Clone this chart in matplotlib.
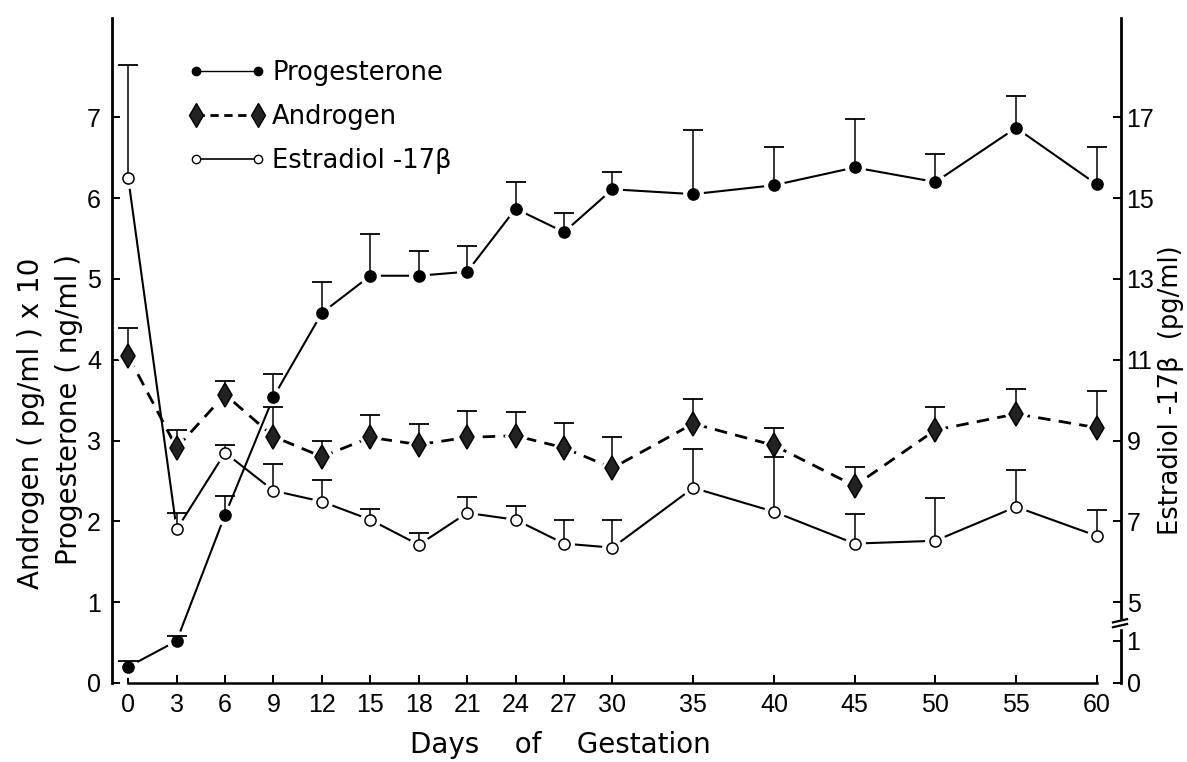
import numpy as np
import matplotlib
matplotlib.use("Agg")
import matplotlib.pyplot as plt
from matplotlib.lines import Line2D
from matplotlib.patches import Rectangle

plt.rcParams['font.family'] = ['DejaVu Sans']

# data
days = [0, 3, 6, 9, 12, 15, 18, 21, 24, 27, 30, 35, 40, 45, 50, 55, 60]

# progesterone (ng/ml), mean and top of error bar
prog = [0.20, 0.52, 2.08, 3.54, 4.58, 5.04, 5.04, 5.09, 5.87, 5.58, 6.11, 6.05, 6.16, 6.38, 6.20, 6.87, 6.17]
prog_top = [0.27, 0.58, 2.32, 3.83, 4.96, 5.56, 5.35, 5.41, 6.20, 5.82, 6.33, 6.84, 6.63, 6.98, 6.55, 7.27, 6.63]

# androgen (pg/ml x 10)
andro = [4.05, 2.91, 3.57, 3.05, 2.80, 3.04, 2.95, 3.04, 3.06, 2.91, 2.66, 3.21, 2.94, 2.44, 3.13, 3.33, 3.16]
andro_top = [4.39, 3.13, 3.74, 3.41, 3.00, 3.32, 3.21, 3.37, 3.35, 3.22, 3.04, 3.51, 3.15, 2.67, 3.41, 3.64, 3.61]

# estradiol-17b (pg/ml), right axis
estr = [15.5, 6.8, 8.7, 7.76, 7.49, 7.04, 6.42, 7.21, 7.04, 6.45, 6.35, 7.83, 7.24, 6.45, 6.52, 7.36, 6.64]
estr_top = [18.3, 7.2, 8.9, 8.43, 8.03, 7.31, 6.72, 7.61, 7.39, 7.04, 7.04, 8.8, 8.6, 7.19, 7.58, 8.28, 7.29]

left_ticks = [0, 1, 2, 3, 4, 5, 6, 7]
right_ticks = [0, 1, 5, 7, 9, 11, 13, 15, 17]

# broken right axis: 0-1 squeezed at the bottom, 5 and up linear
e_pts = [-10, 0, 1, 5, 25]
l_pts = [-5.2, 0, 0.52, 1, 11]


def e_to_l(v):
    return np.interp(v, e_pts, l_pts)


def l_to_e(v):
    return np.interp(v, l_pts, e_pts)


def draw_series(axis, y, top, marker, ms, face, ls, lw, dashes=None):
    kw = {}
    if dashes is not None:
        kw['dashes'] = dashes
    axis.plot(days, y, color='black', ls=ls, lw=lw, zorder=2, **kw)
    # white halo so the line stops short of each marker
    axis.plot(days, y, ls='none', marker=marker, ms=ms + 6, mfc='white', mec='white', zorder=3)
    axis.vlines(days, y, top, color='black', lw=1.1, zorder=4)
    axis.plot(days, top, ls='none', marker='_', ms=15, mew=1.3, color='black', zorder=4)
    axis.plot(days, y, ls='none', marker=marker, ms=ms, mfc=face, mec='black', mew=1.1, zorder=5)


fig = plt.figure(figsize=(11.87, 7.62), dpi=100)
ax = fig.add_axes([0.0944, 0.1037, 0.85, 0.8727])
ax2 = ax.twinx()

ax.set_xlim(-1, 61.5)
ax.set_ylim(0, 8.23)
ax2.set_yscale('function', functions=(e_to_l, l_to_e))
ax2.set_ylim(l_to_e(0), l_to_e(8.23))

draw_series(ax, prog, prog_top, 'o', 8, 'black', '-', 1.5)
draw_series(ax, andro, andro_top, 'd', 12, '#222222', '--', 2.0, dashes=(4.5, 3))
draw_series(ax2, estr, estr_top, 'o', 8, 'white', '-', 1.5)

# spines
for s in ['top', 'right']:
    ax.spines[s].set_visible(False)
for s in ['top', 'left', 'bottom']:
    ax2.spines[s].set_visible(False)
ax.spines['left'].set_linewidth(2.0)
ax.spines['bottom'].set_linewidth(1.8)
ax.spines['bottom'].set_bounds(0, 60)
ax2.spines['right'].set_linewidth(2.0)

ax.set_xticks(days)
ax.set_yticks(left_ticks)
ax2.set_yticks(right_ticks)
ax2.set_yticklabels([str(t) for t in right_ticks])
ax2.minorticks_off()

tick_font = ['Liberation Sans Narrow', 'Liberation Sans']
ax.tick_params(axis='x', direction='in', length=6, width=1.4, labelsize=18, pad=7,
               labelfontfamily=tick_font)
ax.tick_params(axis='y', direction='in', length=6, width=1.4, labelsize=18, pad=8,
               labelfontfamily=tick_font)
ax2.tick_params(axis='y', direction='in', length=6, width=1.4, labelsize=18, pad=4,
                labelfontfamily=tick_font)

# break marks on the right axis
tr = ax.get_yaxis_transform()
ax2.add_patch(Rectangle((0.995, 0.68), 0.01, 0.1, transform=tr, color='white',
                        clip_on=False, zorder=10))
ax2.plot([0.992, 1.006], [0.69, 0.73], transform=tr, color='black', lw=1.6,
         clip_on=False, zorder=11)
ax2.plot([0.992, 1.006], [0.75, 0.79], transform=tr, color='black', lw=1.6,
         clip_on=False, zorder=11)

# legend
handles = [
    Line2D([], [], color='black', lw=1.0, marker='o', ms=6, mfc='black', mec='black'),
    Line2D([], [], color='black', lw=2.0, ls='--', dashes=(3, 2), marker='d', ms=12,
           mfc='#222222', mec='black'),
    Line2D([], [], color='black', lw=1.2, marker='o', ms=6, mfc='white', mec='black'),
]
fig.legend(handles, ['Progesterone', 'Androgen', 'Estradiol -17β'],
           loc='upper left', bbox_to_anchor=(0.148, 0.938), frameon=False,
           numpoints=2, handlelength=3.0, handletextpad=0.25, labelspacing=0.7,
           borderpad=0, fontsize=18.5)

# axis titles
fig.text(0.026, 0.445, 'Androgen ( pg/ml ) x 10', rotation=90, ha='center', va='center',
         fontsize=20)
fig.text(0.058, 0.462, 'Progesterone ( ng/ml )', rotation=90, ha='center', va='center',
         fontsize=20)
fig.text(0.9865, 0.488, 'Estradiol -17β  (pg/ml)', rotation=90, ha='center', va='center',
         fontsize=18.5)
fig.text(0.472, 0.022, 'Days    of    Gestation', ha='center', va='center', fontsize=20)

fig.savefig('out.png', dpi=100)
